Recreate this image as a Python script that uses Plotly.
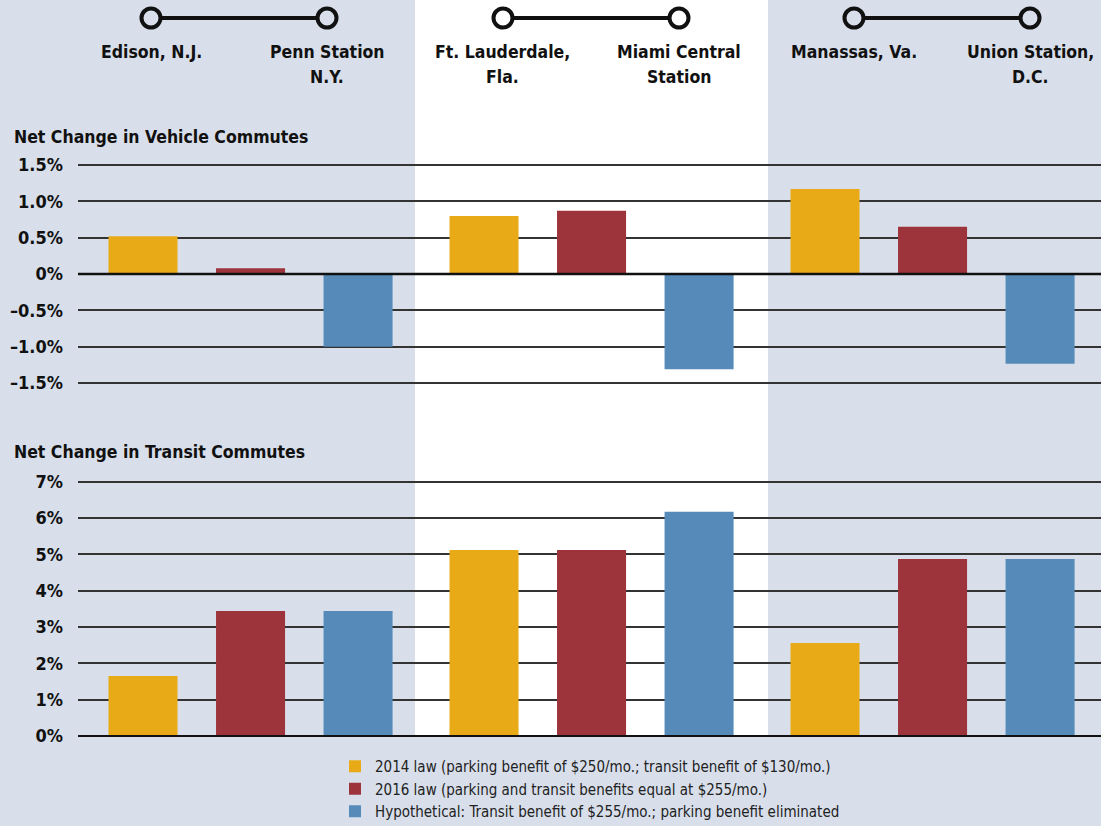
import plotly.graph_objects as go

# ---------------- data ----------------
regions = ["Edison–Penn Station", "Ft. Lauderdale–Miami Central", "Manassas–Union Station"]
stations_from = ["Edison, N.J.", "Ft. Lauderdale,<br>Fla.", "Manassas, Va."]
stations_to = ["Penn Station<br>N.Y.", "Miami Central<br>Station", "Union Station,<br>D.C."]

series_names = [
    "2014 law (parking benefit of $250/mo.; transit benefit of $130/mo.)",
    "2016 law (parking and transit benefits equal at $255/mo.)",
    "Hypothetical: Transit benefit of $255/mo.; parking benefit eliminated",
]
vehicle_2014 = [0.52, 0.80, 1.17]
vehicle_2016 = [0.08, 0.87, 0.65]
vehicle_hypo = [-1.00, -1.31, -1.235]
transit_2014 = [1.65, 5.12, 2.56]
transit_2016 = [3.44, 5.12, 4.87]
transit_hypo = [3.44, 6.17, 4.87]

vehicle_ticks = [-1.5, -1.0, -0.5, 0, 0.5, 1.0, 1.5]
vehicle_ticktext = ["–1.5%", "–1.0%", "–0.5%", "0%", "0.5%", "1.0%", "1.5%"]
transit_ticks = [0, 1, 2, 3, 4, 5, 6, 7]
transit_ticktext = ["0%", "1%", "2%", "3%", "4%", "5%", "6%", "7%"]

title_vehicle = "Net Change in Vehicle Commutes"
title_transit = "Net Change in Transit Commutes"

# ---------------- style ----------------
W, H = 1101, 826
colors = ["#e8ab17", "#9e343b", "#568ab9"]
BG = "#d8dfeb"
FONT = "Liberation Sans Narrow, Arial Narrow, DejaVu Sans Condensed, sans-serif"
TXT = "#111111"

def px_x(p):
    return p / W

def px_y(p):
    return (H - p) / H

fig = go.Figure()

vehicle = [vehicle_2014, vehicle_2016, vehicle_hypo]
transit = [transit_2014, transit_2016, transit_hypo]
for i in range(3):
    fig.add_trace(go.Bar(
        x=regions, y=vehicle[i], name=series_names[i], marker_color=colors[i],
        marker_line_width=0, xaxis="x", yaxis="y", showlegend=True, legendgroup=str(i),
    ))
for i in range(3):
    fig.add_trace(go.Bar(
        x=regions, y=transit[i], name=series_names[i], marker_color=colors[i],
        marker_line_width=0, xaxis="x2", yaxis="y2", showlegend=False, legendgroup=str(i),
    ))

tickfont = dict(family=FONT, size=18, color=TXT, weight="bold")
xdom = [78 / W, 1.0]
grid = dict(showgrid=True, gridcolor="#333333", gridwidth=1.5, zeroline=False,
            showline=False, ticks="", tickfont=tickfont, ticklabelstandoff=14,
            automargin=False)

shapes = []
# white middle panel
shapes.append(dict(type="rect", xref="paper", yref="paper",
                   x0=px_x(415), x1=px_x(768), y0=px_y(736), y1=1.0,
                   fillcolor="white", line=dict(width=0), layer="below"))
# header route lines and circles
route_px = [(151, 327), (503, 679), (854, 1030)]
panel_fill = [BG, "white", BG]
cy = 18
for (a, b), pf in zip(route_px, panel_fill):
    shapes.append(dict(type="line", xref="paper", yref="paper",
                       x0=px_x(a), x1=px_x(b), y0=px_y(cy), y1=px_y(cy),
                       line=dict(color="#111", width=4), layer="above"))
    for c in (a, b):
        r = 9.5
        shapes.append(dict(type="circle", xref="paper", yref="paper",
                           x0=px_x(c - r), x1=px_x(c + r), y0=px_y(cy + r), y1=px_y(cy - r),
                           fillcolor=pf, line=dict(color="#111", width=4), layer="above"))
# zero lines
shapes.append(dict(type="line", xref="x domain", yref="y", x0=0, x1=1, y0=0, y1=0,
                   line=dict(color="#111", width=2.5), layer="above"))
shapes.append(dict(type="line", xref="x2 domain", yref="y2", x0=0, x1=1, y0=0, y1=0,
                   line=dict(color="#111", width=2), layer="above"))

HFONT = dict(family=FONT, size=17.5, color=TXT, weight="bold")
annotations = []
line_centers = [52, 77]
for (a, b), s_from, s_to in zip(route_px, stations_from, stations_to):
    for c, s in ((a, s_from), (b, s_to)):
        for k, part in enumerate(s.split("<br>")):
            annotations.append(dict(xref="paper", yref="paper", x=px_x(c), y=px_y(line_centers[k]),
                                    xanchor="center", yanchor="middle", showarrow=False,
                                    text=part, font=HFONT))
annotations.append(dict(xref="paper", yref="paper", x=px_x(12), y=px_y(137), xanchor="left",
                        yanchor="middle", showarrow=False, text=title_vehicle, font=HFONT))
annotations.append(dict(xref="paper", yref="paper", x=px_x(12), y=px_y(452), xanchor="left",
                        yanchor="middle", showarrow=False, text=title_transit, font=HFONT))

fig.update_layout(
    width=W, height=H,
    margin=dict(l=0, r=0, t=0, b=0, autoexpand=False),
    paper_bgcolor=BG, plot_bgcolor="rgba(0,0,0,0)",
    barmode="group", bargap=0.054, bargroupgap=0.358,
    xaxis=dict(domain=xdom, anchor="y", type="category", range=[-0.506, 2.494],
               showticklabels=False, showgrid=False, zeroline=False, showline=False),
    xaxis2=dict(domain=xdom, anchor="y2", type="category", range=[-0.506, 2.494],
                showticklabels=False, showgrid=False, zeroline=False, showline=False),
    yaxis=dict(domain=[px_y(390.2), px_y(157.8)], anchor="x", range=[-1.6, 1.6],
               tickvals=vehicle_ticks, ticktext=vehicle_ticktext, **grid),
    yaxis2=dict(domain=[px_y(741.45), px_y(472.6)], anchor="x2", range=[-0.15, 7.25],
                tickvals=transit_ticks, ticktext=transit_ticktext, **grid),
    shapes=shapes,
    annotations=annotations,
    legend=dict(x=px_x(335), y=px_y(750), xanchor="left", yanchor="top",
                bgcolor="rgba(0,0,0,0)", font=dict(family=FONT, size=15, color="#222"),
                tracegroupgap=0, itemclick=False),
    font=dict(family=FONT),
)

fig.write_html("out.html")
